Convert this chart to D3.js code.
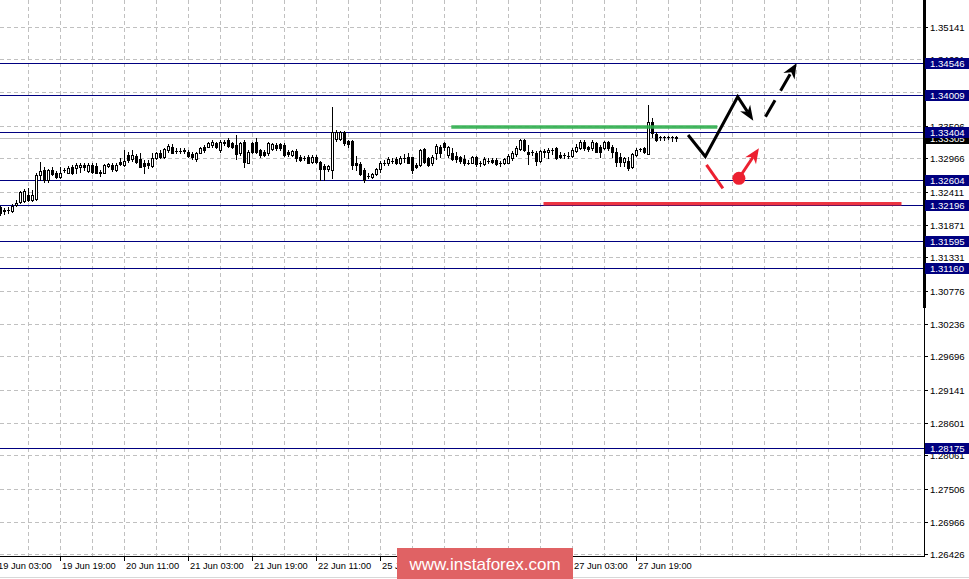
<!DOCTYPE html>
<html><head><meta charset="utf-8">
<script src="https://cdn.jsdelivr.net/npm/d3@7"></script>
<style>body{margin:0;background:#fff}svg{display:block}text{font-family:"Liberation Sans",Arial,sans-serif}</style>
</head><body><svg id="c" width="969" height="579"></svg>
<script>
// ---- data (H1 candles, bar index 0 = 19 Jun 04:00) ----
const opens=[1.32163,1.32113,1.32113,1.32097,1.32196,1.32246,1.32262,1.32361,1.32279,1.32295,
1.32692,1.32774,1.32609,1.32774,1.32725,1.32659,1.32774,1.32725,1.32824,1.32807,
1.32824,1.32857,1.32758,1.32857,1.32840,1.32741,1.32725,1.32840,1.32857,1.32774,
1.32906,1.32857,1.33022,1.32956,1.33006,1.32956,1.32890,1.32890,1.32840,1.32972,
1.33055,1.32989,1.33105,1.33154,1.33088,1.33088,1.33105,1.33072,1.33039,1.32956,
1.33055,1.33154,1.33154,1.33187,1.33220,1.33105,1.33237,1.33270,1.33220,1.33187,
1.33055,1.33237,1.32890,1.33220,1.33237,1.33105,1.33072,1.33055,1.33121,1.33187,
1.33204,1.33187,1.33072,1.33022,1.33088,1.32989,1.32972,1.32989,1.32906,1.32989,
1.32906,1.32840,1.32791,1.32774,1.33287,1.33287,1.33402,1.33253,1.33253,1.32890,
1.32873,1.32774,1.32675,1.32659,1.32708,1.32791,1.32890,1.32890,1.32923,1.32956,
1.32890,1.32972,1.32989,1.32989,1.32857,1.32857,1.33121,1.32972,1.32890,1.33055,
1.33154,1.33220,1.33022,1.33055,1.33006,1.32989,1.32956,1.32890,1.32890,1.32989,
1.32890,1.32873,1.32923,1.32939,1.32939,1.32890,1.32890,1.32890,1.32972,1.33039,
1.33121,1.33270,1.33072,1.33072,1.33055,1.32923,1.33072,1.33072,1.33105,1.33138,
1.33022,1.33022,1.33006,1.33006,1.33088,1.33138,1.33237,1.33154,1.33138,1.33220,
1.33154,1.33138,1.33237,1.33154,1.33072,1.32989,1.32906,1.32923,1.32824,1.33022,
1.33121,1.33138,1.33039,1.33567,1.33369,1.33320,1.33320,1.33320,1.33320,1.33320];
const highs=[1.32179,1.32146,1.32163,1.32213,1.32279,1.32427,1.32460,1.32477,1.32444,1.32725,
1.32906,1.32824,1.32791,1.32824,1.32758,1.32824,1.32807,1.32840,1.32857,1.32890,
1.32890,1.32890,1.32890,1.32890,1.32890,1.32774,1.32873,1.32890,1.32890,1.32890,
1.32972,1.33105,1.33072,1.33105,1.33039,1.33055,1.32939,1.32939,1.33055,1.33072,
1.33105,1.33138,1.33204,1.33204,1.33138,1.33138,1.33138,1.33105,1.33072,1.33072,
1.33154,1.33187,1.33237,1.33270,1.33237,1.33270,1.33270,1.33303,1.33237,1.33353,
1.33237,1.33270,1.33105,1.33237,1.33303,1.33121,1.33105,1.33237,1.33220,1.33220,
1.33220,1.33220,1.33105,1.33105,1.33121,1.33022,1.33006,1.33022,1.33022,1.33022,
1.32923,1.32873,1.32857,1.33815,1.33435,1.33419,1.33419,1.33270,1.33270,1.33006,
1.32906,1.32807,1.32725,1.32725,1.32807,1.32923,1.32939,1.32989,1.32972,1.32989,
1.33006,1.33039,1.33055,1.32989,1.32890,1.33121,1.33138,1.32989,1.33022,1.33204,
1.33187,1.33237,1.33171,1.33138,1.33072,1.33006,1.33022,1.32939,1.33006,1.33006,
1.32923,1.32989,1.32972,1.32972,1.32972,1.32923,1.32972,1.33039,1.33088,1.33171,
1.33287,1.33287,1.33187,1.33105,1.33088,1.33105,1.33121,1.33138,1.33138,1.33154,
1.33072,1.33055,1.33072,1.33138,1.33204,1.33270,1.33270,1.33171,1.33270,1.33237,
1.33187,1.33253,1.33253,1.33187,1.33138,1.33055,1.32989,1.32989,1.33055,1.33138,
1.33138,1.33154,1.33848,1.33633,1.33402,1.33336,1.33336,1.33336,1.33336,1.33336];
const lows=[1.32031,1.32047,1.32064,1.32080,1.32179,1.32229,1.32246,1.32262,1.32262,1.32279,
1.32609,1.32576,1.32576,1.32692,1.32642,1.32642,1.32741,1.32725,1.32708,1.32725,
1.32741,1.32774,1.32741,1.32725,1.32725,1.32675,1.32725,1.32824,1.32758,1.32758,
1.32857,1.32840,1.32906,1.32923,1.32890,1.32824,1.32725,1.32807,1.32824,1.32956,
1.32972,1.32972,1.33072,1.33055,1.33055,1.33055,1.33055,1.32989,1.32956,1.32923,
1.33055,1.33072,1.33154,1.33154,1.33138,1.33072,1.33187,1.33154,1.33138,1.32956,
1.33022,1.32824,1.32890,1.33055,1.33055,1.32989,1.33006,1.33022,1.33105,1.33105,
1.33105,1.33006,1.33006,1.33006,1.32923,1.32923,1.32939,1.32890,1.32890,1.32890,
1.32609,1.32609,1.32758,1.32642,1.33253,1.33270,1.33187,1.33154,1.32791,1.32774,
1.32692,1.32576,1.32642,1.32642,1.32692,1.32741,1.32857,1.32857,1.32890,1.32873,
1.32873,1.32906,1.32890,1.32725,1.32807,1.32840,1.32890,1.32840,1.32857,1.32956,
1.32989,1.33105,1.32989,1.32939,1.32906,1.32890,1.32857,1.32873,1.32890,1.32840,
1.32840,1.32857,1.32890,1.32890,1.32857,1.32840,1.32873,1.32890,1.32939,1.33006,
1.33105,1.33088,1.32873,1.33022,1.32857,1.32906,1.32989,1.32972,1.33039,1.32956,
1.32972,1.32972,1.32972,1.32989,1.33072,1.33121,1.33105,1.33088,1.33105,1.33072,
1.32989,1.33121,1.33105,1.32989,1.32840,1.32840,1.32840,1.32774,1.32807,1.33006,
1.33088,1.33055,1.33039,1.33320,1.33253,1.33270,1.33270,1.33287,1.33253,1.33253];
const closes=[1.32064,1.32097,1.32113,1.32179,1.32229,1.32411,1.32427,1.32279,1.32361,1.32692,
1.32758,1.32609,1.32774,1.32708,1.32659,1.32725,1.32774,1.32807,1.32725,1.32857,
1.32857,1.32824,1.32857,1.32741,1.32725,1.32725,1.32857,1.32873,1.32791,1.32857,
1.32873,1.32923,1.32939,1.33022,1.32906,1.32824,1.32840,1.32857,1.32972,1.33055,
1.32989,1.33121,1.33171,1.33055,1.33088,1.33088,1.33088,1.33006,1.32989,1.33055,
1.33138,1.33105,1.33220,1.33237,1.33154,1.33237,1.33220,1.33171,1.33154,1.33039,
1.33220,1.32906,1.33072,1.33072,1.33072,1.33022,1.33022,1.33220,1.33204,1.33138,
1.33138,1.33022,1.33039,1.33088,1.32972,1.32939,1.32972,1.32890,1.32989,1.32906,
1.32791,1.32791,1.32840,1.33402,1.33402,1.33402,1.33220,1.33204,1.32857,1.32857,
1.32708,1.32609,1.32675,1.32708,1.32791,1.32890,1.32890,1.32956,1.32923,1.32890,
1.32972,1.32972,1.32890,1.32774,1.32824,1.33105,1.32906,1.32857,1.32989,1.33171,
1.33055,1.33154,1.33154,1.32956,1.32956,1.32923,1.32890,1.32890,1.32989,1.32873,
1.32890,1.32956,1.32923,1.32906,1.32873,1.32890,1.32956,1.33006,1.33055,1.33138,
1.33270,1.33105,1.33039,1.33072,1.32923,1.33088,1.33088,1.33105,1.33105,1.32972,
1.32989,1.33022,1.33006,1.33105,1.33154,1.33237,1.33138,1.33121,1.33237,1.33072,
1.33072,1.33237,1.33138,1.33072,1.32906,1.32906,1.32972,1.32807,1.33039,1.33105,
1.33121,1.33072,1.33567,1.33386,1.33270,1.33320,1.33320,1.33320,1.33320,1.33303];

const priceTicks=[1.35141,1.34601,1.34061,1.33506,1.32966,1.32411,1.31871,1.31331,1.30776,
1.30236,1.29696,1.29141,1.28601,1.28061,1.27506,1.26966,1.26426];
const levelPrices=[1.34546,1.34009,1.33404,1.32604,1.32196,1.31595,1.31160,1.28175];
const bidPrice=1.33305;
const timeLabels=["19 Jun 03:00","19 Jun 19:00","20 Jun 11:00","21 Jun 03:00","21 Jun 19:00",
"22 Jun 11:00","25 Jun 03:00","25 Jun 19:00","26 Jun 11:00","27 Jun 03:00","27 Jun 19:00"];
const timeLabelBars=[-1,15,31,47,63,79,95,111,127,143,159];

// annotations (bar index, price)
const greenLine=[[112.7,1.33485],[179.2,1.33485]];
const redLine=[[135.75,1.32215],[225.25,1.32215]];
const blackPath=[[171.9,1.33353],[176.2,1.32997],[184.3,1.33985],[188.2,1.33589]];
const dashedPath=[[191.25,1.33655],[199,1.34537]];
const redSeg=[[176.5,1.32857],[180.6,1.32472]];
const redDot=[184.6,1.32637];
const redArrow=[[184.6,1.32637],[189.6,1.33133]];

// ---- drawing ----
const svg=d3.select("#c");
const plotR=924, plotB=556;
const x=d3.scaleLinear().domain([0,230]).range([0.5,920.5]);
const y=d3.scaleLinear().domain([1.26426,1.35141]).range([554.3,26.7]);
svg.append("rect").attr("width",969).attr("height",579).attr("fill","#fff");
svg.append("defs").append("clipPath").attr("id","pc").append("rect")
  .attr("x",0).attr("y",0).attr("width",plotR).attr("height",plotB);
const plot=svg.append("g").attr("clip-path","url(#pc)");

// grid
const gridBars=d3.range(-1,232,8);
plot.selectAll(".vg").data(gridBars).join("line")
  .attr("x1",d=>x(d)).attr("x2",d=>x(d)).attr("y1",0).attr("y2",plotB)
  .attr("stroke","#c0c0c0").attr("stroke-dasharray","4,3");
plot.selectAll(".hg").data(priceTicks).join("line")
  .attr("x1",0).attr("x2",plotR).attr("y1",d=>Math.round(y(d))+0.5).attr("y2",d=>Math.round(y(d))+0.5)
  .attr("stroke","#c0c0c0").attr("stroke-dasharray","4,3");

// bid line
plot.append("line").attr("x1",0).attr("x2",plotR)
  .attr("y1",Math.round(y(bidPrice))+0.5).attr("y2",Math.round(y(bidPrice))+0.5).attr("stroke","#c0c0c0");

// level lines
plot.selectAll(".lv").data(levelPrices).join("line")
  .attr("x1",0).attr("x2",plotR).attr("y1",d=>Math.round(y(d))+0.5).attr("y2",d=>Math.round(y(d))+0.5)
  .attr("stroke","#000080");

// candles
const cg=plot.append("g").attr("shape-rendering","crispEdges");
opens.forEach((o,i)=>{
  const c=closes[i], cx=x(i);
  cg.append("line").attr("x1",cx).attr("x2",cx)
    .attr("y1",Math.round(y(highs[i]))).attr("y2",Math.round(y(lows[i]))+1).attr("stroke","#000");
  const yt=Math.round(y(Math.max(o,c))), yb=Math.round(y(Math.min(o,c)));
  if(yb-yt<1){
    cg.append("line").attr("x1",cx-1.5).attr("x2",cx+1.5).attr("y1",yt+0.5).attr("y2",yt+0.5).attr("stroke","#000");
  } else {
    cg.append("rect").attr("x",cx-1).attr("y",yt+0.5).attr("width",2).attr("height",yb-yt)
      .attr("fill",c>=o?"#fff":"#000").attr("stroke","#000");
  }
});

// annotations
const ln=d3.line().x(d=>x(d[0])).y(d=>y(d[1]));
plot.append("path").attr("d",ln(greenLine)).attr("stroke","#2fae4e").attr("stroke-width",3.5).attr("opacity",0.9).attr("fill","none");
plot.append("path").attr("d",ln(redLine)).attr("stroke","#ec2a38").attr("stroke-width",3.5).attr("opacity",0.95).attr("fill","none");

function head(p0,p1,color,len,hw){
  const ax=x(p0[0]),ay=y(p0[1]),bx=x(p1[0]),by=y(p1[1]);
  const dx=bx-ax,dy=by-ay,L=Math.hypot(dx,dy),ux=dx/L,uy=dy/L,nx=-uy,ny=ux;
  const bxp=bx-ux*len,byp=by-uy*len;
  const pts=[[bx,by],[bxp+nx*hw,byp+ny*hw],[bx-ux*len*0.7,by-uy*len*0.7],[bxp-nx*hw,byp-ny*hw]];
  plot.append("path").attr("d","M"+pts.map(p=>p.join(",")).join("L")+"Z").attr("fill",color);
  return [bx-ux*len*0.7, by-uy*len*0.7];
}
// black solid polyline with head
{
  const n=blackPath.length;
  const endPt=head(blackPath[n-2],blackPath[n-1],"#000",15,6);
  const pts=blackPath.slice(0,n-1).map(d=>[x(d[0]),y(d[1])]).concat([endPt]);
  plot.append("path").attr("d",d3.line()(pts)).attr("stroke","#000").attr("stroke-width",3)
    .attr("fill","none").attr("stroke-linejoin","miter");
}
// dashed black arrow
{
  const endPt=head(dashedPath[0],dashedPath[1],"#000",15,6.5);
  plot.append("path").attr("d",d3.line()([[x(dashedPath[0][0]),y(dashedPath[0][1])],endPt]))
    .attr("stroke","#000").attr("stroke-width",3).attr("stroke-dasharray","19,11").attr("fill","none");
}
// red elements
plot.append("path").attr("d",ln(redSeg)).attr("stroke","#ec2030").attr("stroke-width",3).attr("fill","none");
{
  const endPt=head(redArrow[0],redArrow[1],"#ec2030",15,6.5);
  plot.append("path").attr("d",d3.line()([[x(redArrow[0][0]),y(redArrow[0][1])],endPt]))
    .attr("stroke","#ec2030").attr("stroke-width",3).attr("fill","none");
  plot.append("circle").attr("cx",x(redDot[0])).attr("cy",y(redDot[1])).attr("r",6.5).attr("fill","#ec2030");
}

// right axis
svg.append("line").attr("x1",924.5).attr("x2",924.5).attr("y1",0).attr("y2",plotB+1).attr("stroke","#000");
svg.append("rect").attr("x",923).attr("y",0).attr("width",3).attr("height",308).attr("fill","#000");
svg.selectAll(".rt").data(priceTicks).join("line")
  .attr("x1",924).attr("x2",928).attr("y1",d=>Math.round(y(d))+0.5).attr("y2",d=>Math.round(y(d))+0.5).attr("stroke","#000");
svg.selectAll(".rl").data(priceTicks).join("text")
  .attr("x",930).attr("y",d=>Math.round(y(d))+4).attr("font-size",9.6).attr("fill","#000")
  .text(d=>d.toFixed(5));
// bid box
{
  const yy=Math.round(y(bidPrice));
  svg.append("rect").attr("x",925).attr("y",yy-5).attr("width",44).attr("height",11).attr("fill","#000");
  svg.append("text").attr("x",930).attr("y",yy+4).attr("font-size",9.6).attr("fill","#fff").text(bidPrice.toFixed(5));
}
levelPrices.forEach(p=>{
  const yy=Math.round(y(p));
  svg.append("rect").attr("x",925).attr("y",yy-5).attr("width",44).attr("height",11).attr("fill","#000080");
  svg.append("text").attr("x",930).attr("y",yy+4).attr("font-size",9.6).attr("fill","#fff").text(p.toFixed(5));
});

// bottom axis
svg.append("line").attr("x1",0).attr("x2",925).attr("y1",plotB+0.5).attr("y2",plotB+0.5).attr("stroke","#000");
svg.selectAll(".bt").data(timeLabelBars).join("line")
  .attr("x1",d=>x(d)).attr("x2",d=>x(d)).attr("y1",plotB).attr("y2",plotB+5).attr("stroke","#000");
svg.selectAll(".bl").data(timeLabels).join("text")
  .attr("x",(d,i)=>x(timeLabelBars[i])+1.5).attr("y",569).attr("font-size",9.3).attr("fill","#000")
  .text(d=>d);
svg.append("line").attr("x1",0).attr("x2",969).attr("y1",577.5).attr("y2",577.5).attr("stroke","#d8d8d8");

// watermark (opaque, covers the axis labels behind it as in the reference)
svg.append("rect").attr("x",397).attr("y",548).attr("width",176).attr("height",31).attr("fill","#e06264");
svg.append("text").attr("x",485).attr("y",569.5).attr("text-anchor","middle").attr("font-size",17)
  .attr("fill","#fff").text("www.instaforex.com");
</script></body></html>
